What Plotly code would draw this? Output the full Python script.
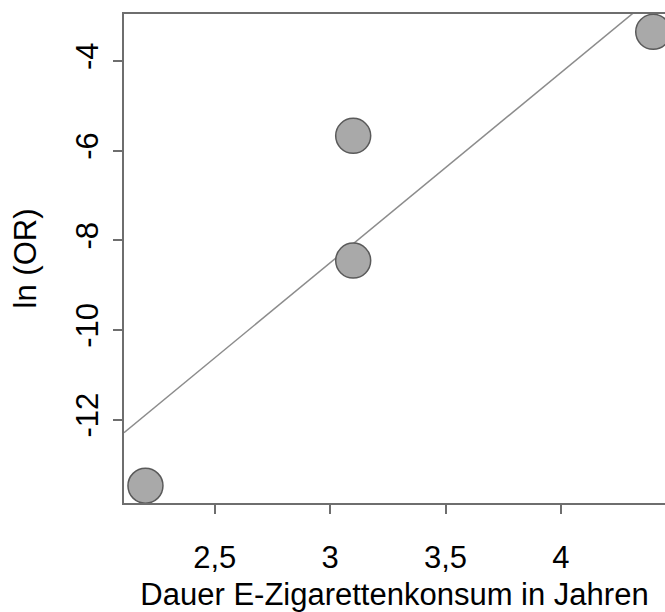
import plotly.graph_objects as go

# Data
duration_years = [2.2, 3.1, 3.1, 4.4]
ln_or = [-13.47, -5.67, -8.45, -3.35]
fit_intercept = -21.22
fit_slope = 4.24

x_range = [2.107, 4.451]
y_range = [-13.855, -2.953]
x_ticks = [2.5, 3, 3.5, 4]
x_ticklabels = ["2,5", "3", "3,5", "4"]
y_ticks = [-12, -10, -8, -6, -4]
y_ticklabels = ["-12", "-10", "-8", "-6", "-4"]

fit_x = x_range
fit_y = [fit_intercept + fit_slope * v for v in fit_x]

FONT = "Liberation Sans, Arial, sans-serif"
AXIS_COLOR = "#6e6e6e"
FS = 31

fig = go.Figure()
fig.add_trace(go.Scatter(
    x=fit_x, y=fit_y, mode="lines",
    line=dict(color="#8c8c8c", width=1.5),
    showlegend=False, hoverinfo="skip",
))
fig.add_trace(go.Scatter(
    x=duration_years, y=ln_or, mode="markers",
    marker=dict(size=35, color="#a9a9a9", line=dict(color="#5a5a5a", width=1.5)),
    showlegend=False, cliponaxis=True,
))

fig.update_layout(
    width=665, height=612,
    margin=dict(l=124, r=0, t=14, b=109),
    paper_bgcolor="white", plot_bgcolor="white",
    font=dict(family=FONT, color="black", size=FS),
)
fig.update_xaxes(
    range=x_range, showgrid=False, zeroline=False,
    showline=True, linecolor=AXIS_COLOR, linewidth=1.5, mirror=True,
    ticks="outside", ticklen=9, tickwidth=1.5, tickcolor=AXIS_COLOR,
    tickvals=x_ticks, ticktext=x_ticklabels, ticklabelstandoff=17,
    tickfont=dict(size=FS, family=FONT, color="black"),
    title=dict(text="Dauer E-Zigarettenkonsum in Jahren", font=dict(size=FS, family=FONT, color="black"), standoff=12),
)
fig.update_yaxes(
    range=y_range, showgrid=False, zeroline=False,
    showline=True, linecolor=AXIS_COLOR, linewidth=1.5, mirror=False,
    ticks="outside", ticklen=9, tickwidth=1.5, tickcolor=AXIS_COLOR,
    tickvals=y_ticks, ticktext=y_ticklabels, tickangle=-90, ticklabelstandoff=3,
    tickfont=dict(size=FS, family=FONT, color="black"),
    title=dict(text="ln (OR)", font=dict(size=FS, family=FONT, color="black"), standoff=24),
)

fig.write_html("out.html")
